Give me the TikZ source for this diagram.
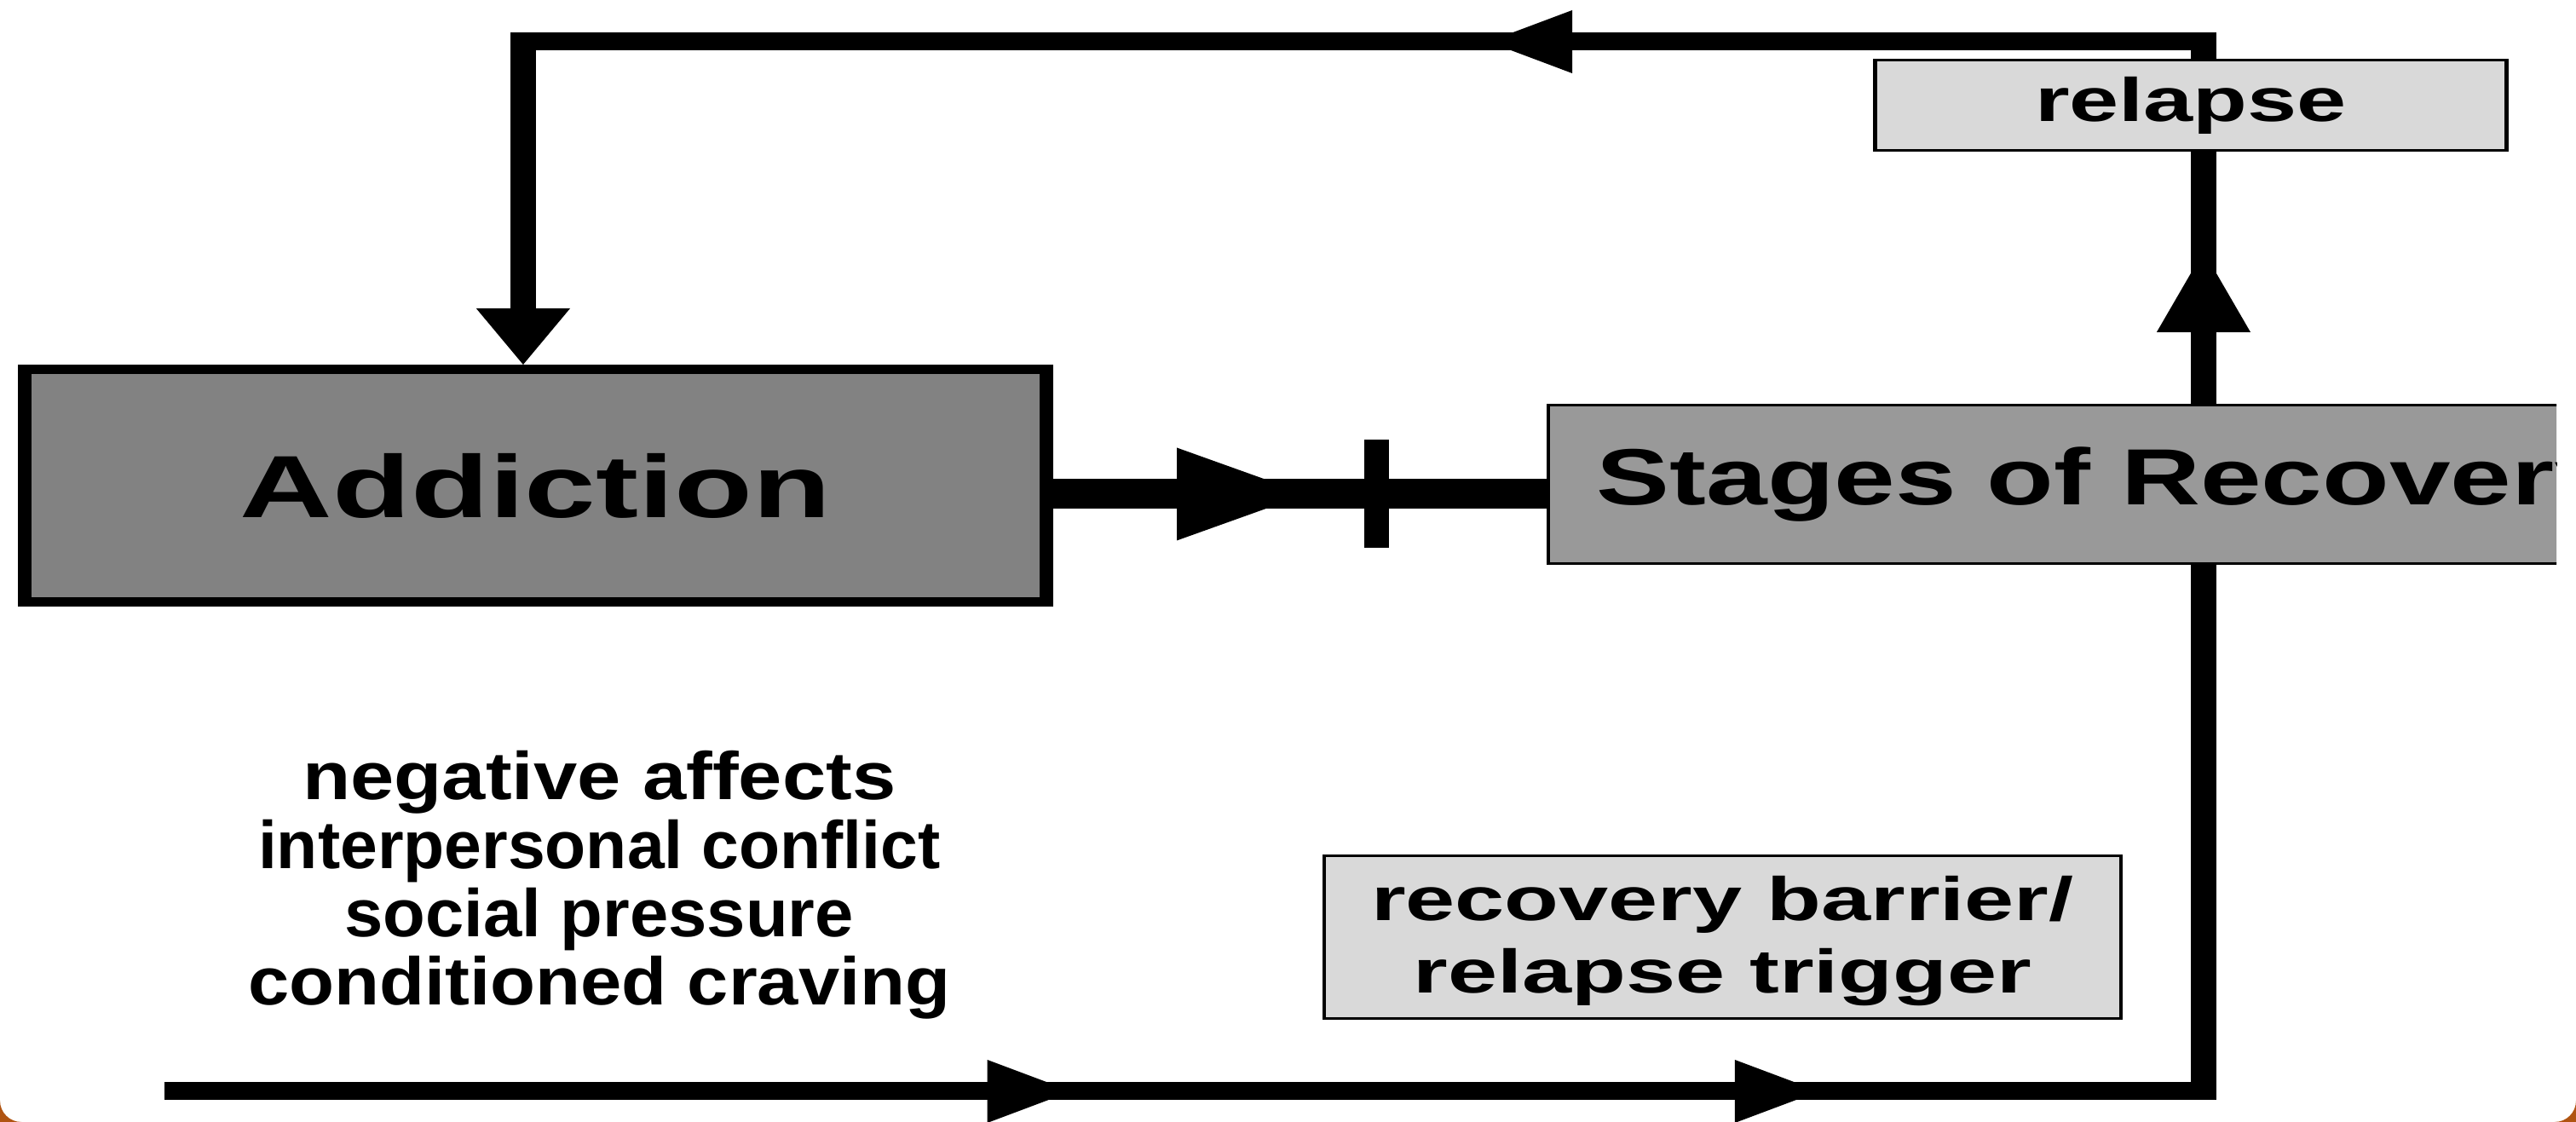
\documentclass[tikz,border=0pt]{standalone}
\usepackage{fontspec}
\setmainfont{Liberation Sans}
\newfontfamily\narrowfont[FakeStretch=0.78]{Liberation Sans}
\newfontfamily\stagefont[FakeStretch=0.95]{Liberation Sans}
\usetikzlibrary{arrows.meta,decorations.markings}

\definecolor{darkbox}{gray}{0.51}
\definecolor{midbox}{gray}{0.60}
\definecolor{lightbox}{gray}{0.85}
\definecolor{framecol}{RGB}{176,84,18}

\begin{document}
\begin{tikzpicture}[
  >={Triangle[length=6.8mm,width=7.4mm,line width=0pt]},
  mainbox/.style={draw, line width=1.1mm, fill=darkbox, inner sep=0pt,
    minimum width=8.27cm, minimum height=2.73cm,
    font=\fontsize{29.5}{34}\selectfont\bfseries},
  stagebox/.style={draw, line width=0.3mm, fill=midbox, inner xsep=3.9mm,
    minimum height=1.86cm, anchor=west,
    font=\fontsize{26.6}{30}\selectfont\stagefont\bfseries},
  notebox/.style={draw, line width=0.3mm, fill=lightbox, align=center,
    font=\fontsize{20.5}{24.2}\selectfont\bfseries},
  flow/.style={line width=2.1mm},
  arrowat/.style={postaction={decorate, decoration={markings,
    mark=at position #1 with {\arrow{>}}}}}
]
  \useasboundingbox (0,0) rectangle (30.23,13.17);
  % slide frame corners
  \fill[framecol] (30.23,0) -- (30.23,0.25) arc[start angle=0, end angle=-90, radius=0.25] -- cycle;
  \fill[framecol] (0,0) -- (0.25,0) arc[start angle=-90, end angle=-180, radius=0.25] -- cycle;

  \begin{scope}[transform canvas={xscale=1.45}]
    \node[mainbox] (addiction) at (4.334,7.47) {Addiction};
    \begin{scope}
      \clip (0,0) rectangle (20.69,13.17);
      \node[stagebox] (stages) at (12.518,7.485) {Stages of Recovery};
    \end{scope}
    \node[notebox, minimum width=5.11cm, minimum height=1.06cm] (relapse) at (17.731,11.935) {relapse};
    \node[notebox, inner ysep=0pt, minimum width=6.45cm, minimum height=1.91cm] (barrier) at (13.941,2.17)
      {\rule{0pt}{6.2mm}recovery barrier/\\relapse trigger};
    \node[font=\fontsize{22.5}{22.8}\selectfont\narrowfont\bfseries, align=center, inner sep=0pt, anchor=north] (triggers) at (4.85,4.36)
      {\scalebox{1.03}[1]{negative affects}\\\scalebox{0.88}[1]{interpersonal conflict}\\
       \scalebox{0.91}[1]{social pressure}\\\scalebox{0.97}[1]{conditioned craving}};

    \coordinate (feed) at (1.331,0.36);
    \coordinate (rx) at (17.834,0);
    \coordinate (lx) at (4.234,0);
    \coordinate (topy) at (0,12.68);

    % loop round the outside
    \draw[flow, arrowat=7.34cm, arrowat=13.39cm] (feed) -- (feed -| rx) -- (stages.south -| rx);
    \draw[flow, postaction={decorate, decoration={markings,
        mark=at position 1.79cm with {\arrow{Triangle[length=9.5mm,width=7.6mm,line width=0pt]}}}}]
      (stages.north -| rx) -- (relapse.south -| rx);
    \draw[flow, -{Triangle[length=6.6mm,width=7.6mm,line width=0pt]}, arrowat=5.99cm]
      (relapse.north -| rx) -- (topy -| rx) -- (topy -| lx) -- (addiction.north -| lx);

    % addiction into recovery, blocked
    \draw[line width=3.5mm, postaction={decorate, decoration={markings,
        mark=at position 2.05cm with {\arrow{Triangle[length=10.5mm,width=10.9mm,line width=0pt]}},
        mark=at position 2.617cm with {\draw[line width=2mm] (0,-6.35mm) -- (0,6.35mm);}}}]
      ([yshift=-1mm]addiction.east) -- ([yshift=-1mm]addiction.east -| stages.west);
  \end{scope}
\end{tikzpicture}
\end{document}
